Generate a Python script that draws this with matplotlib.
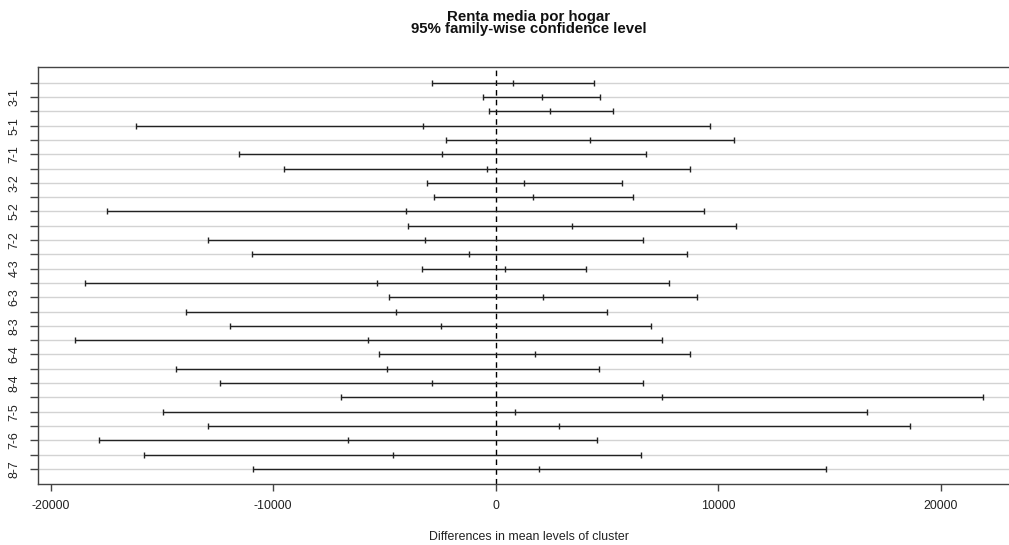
# -*- coding:utf-8 -*-
import numpy as np
import matplotlib
matplotlib.use('Agg')
import matplotlib.pyplot as plt

plt.rcParams['font.family'] = ['Liberation Sans', 'DejaVu Sans']

# TukeyHSD: renta media por hogar ~ cluster
comparisons = ['2-1', '3-1', '4-1', '5-1', '6-1', '7-1', '8-1',
               '3-2', '4-2', '5-2', '6-2', '7-2', '8-2',
               '4-3', '5-3', '6-3', '7-3', '8-3',
               '5-4', '6-4', '7-4', '8-4',
               '6-5', '7-5', '8-5',
               '7-6', '8-6',
               '8-7']
diff = [764, 2067, 2454, -3267, 4224, -2400, -404,
        1285, 1676, -4045, 3442, -3164, -1186,
        404, -5348, 2139, -4467, -2445,
        -5739, 1753, -4872, -2876,
        7487, 867, 2858,
        -6624, -4602,
        1959]
lwr = [-2849, -557, -301, -16165, -2247, -11536, -9527,
       -3087, -2773, -17455, -3928, -12943, -10965,
       -3299, -18457, -4782, -13905, -11941,
       -18920, -5245, -14367, -12390,
       -6939, -14952, -12916,
       -17814, -15792,
       -10893]
upr = [4404, 4687, 5258, 9631, 10696, 6768, 8745,
       5689, 6184, 9348, 10799, 6633, 8611,
       4072, 7802, 9060, 5002, 6993,
       7460, 8745, 4656, 6633,
       21886, 16673, 18632,
       4539, 6530,
       14857]
xtick_vals = [-20000, -10000, 0, 10000, 20000]

W, H = 1009, 545
fig = plt.figure(figsize=(W / 100, H / 100), dpi=100)
# right edge of the plot box falls outside the image, as in the original
left, right, top, bottom = 38.4, 1019.0, 67.3, 484.3
ax = fig.add_axes([left / W, 1 - bottom / H, (right - left) / W, (bottom - top) / H])

n = len(comparisons)
yvals = np.arange(n, 0, -1)

lo, hi = min(lwr), max(upr)
pad = 0.04 * (hi - lo)
ax.set_xlim(lo - pad, hi + pad)
ax.set_ylim(1 - 0.04 * (n - 1), n + 0.04 * (n - 1))

for y in yvals:
    ax.axhline(y, color='#d3d3d3', lw=1, zorder=1)
ax.axvline(0, color='black', lw=1, ls=(0, (4, 3)), zorder=2)

ax.hlines(yvals, lwr, upr, color='#222222', lw=1, zorder=3)
for vals in (lwr, diff, upr):
    ax.plot(vals, yvals, ls='none', marker='|', ms=5, mew=1, color='#222222', zorder=4)

ax.set_yticks(yvals)
ax.set_yticklabels([c if i % 2 == 1 else '' for i, c in enumerate(comparisons)],
                   rotation=90, va='center', fontsize=8.9, color='#222222')
ax.set_xticks(xtick_vals)
ax.set_xticklabels([str(v) for v in xtick_vals], fontsize=8.9, color='#222222')
ax.tick_params(axis='x', length=5, width=1, pad=6.5, color='#444444')
ax.tick_params(axis='y', length=5.5, width=1, pad=7.5, color='#444444')

for s in ax.spines.values():
    s.set_color('#444444')
    s.set_linewidth(1)
ax.spines['right'].set_visible(False)

cx = (left + right) / 2 / W
fig.text(cx, 1 - 16.7 / H, 'Renta media por hogar', ha='center', va='center',
         fontsize=10.8, fontweight='bold', color='#111111')
fig.text(cx, 1 - 29.3 / H, '95% family-wise confidence level', ha='center', va='center',
         fontsize=10.8, fontweight='bold', color='#111111')
fig.text(cx, 1 - 537 / H, 'Differences in mean levels of cluster', ha='center', va='center',
         fontsize=8.9, color='#222222')

fig.savefig('out.png', dpi=100)
